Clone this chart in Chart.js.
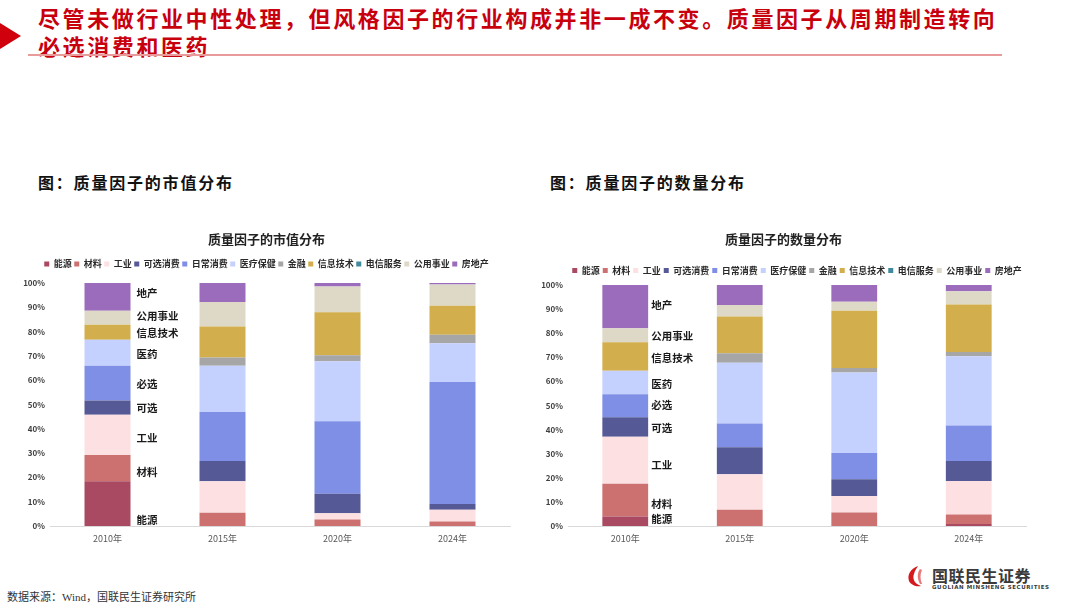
<!DOCTYPE html>
<html>
<head>
<meta charset="utf-8">
<script src="https://cdn.jsdelivr.net/npm/chart.js@4.4.1/dist/chart.umd.min.js"></script>
<style>
body{margin:0;width:1080px;height:607px;background:#fff;position:relative;overflow:hidden;font-family:"Noto Sans CJK SC",sans-serif;}
#tri{position:absolute;left:0;top:23px;width:0;height:0;border-top:13px solid transparent;border-bottom:13px solid transparent;border-left:21px solid #d0000c;}
#head{position:absolute;left:38px;top:3px;color:#c8000e;font-size:22px;font-weight:bold;line-height:28px;letter-spacing:2.6px;white-space:nowrap;}
#rule{position:absolute;left:28px;top:54px;width:974px;height:2px;background:#e99a9a;}
.sub{position:absolute;top:170px;font-size:16px;font-weight:bold;color:#111;letter-spacing:1.8px;}
.box{position:absolute;top:220px;height:330px;}
#src{position:absolute;left:7px;top:588px;font-size:11px;color:#333;font-family:"Liberation Serif","Noto Sans CJK SC",serif;}
#logo{position:absolute;left:906px;top:565px;}
#logo .cn{position:absolute;left:26px;top:-2px;font-size:16px;font-weight:bold;color:#3a3a3a;white-space:nowrap;letter-spacing:0.5px;}
#logo .en{position:absolute;left:26px;top:19px;font-size:5.5px;color:#3a3a3a;white-space:nowrap;letter-spacing:0.6px;font-weight:bold;font-family:"DejaVu Sans",sans-serif;}
</style>
</head>
<body>
<div id="tri"></div>
<div id="head">尽管未做行业中性处理，但风格因子的行业构成并非一成不变。质量因子从周期制造转向<br>必选消费和医药</div>
<div id="rule"></div>
<div class="sub" style="left:38px">图：质量因子的市值分布</div>
<div class="sub" style="left:550px">图：质量因子的数量分布</div>
<div class="box" style="left:0px;width:520px"><canvas id="mv"></canvas></div>
<div class="box" style="left:518px;width:518px"><canvas id="cnt"></canvas></div>
<div id="src">数据来源：Wind，国联民生证券研究所</div>
<div id="logo">
<svg width="22" height="22" viewBox="0 0 22 22" style="position:absolute;left:0;top:0">
<path d="M12 1 C4 4 1 10 3 16 C5 20 10 22 15 21 C9 19 6 14 8 9 C9 5 11 3 12 1 Z" fill="#d41a1f"/>
<path d="M14 4 C11 8 11 14 14 19 L16 19 C14 14 14 9 16 5 Z" fill="#e7797b"/>
</svg>
<div class="cn">国联民生证券</div>
<div class="en">GUOLIAN MINSHENG SECURITIES</div>
</div>
<script>
const years = ['2010年', '2015年', '2020年', '2024年'];
const sectors = ['能源', '材料', '工业', '可选消费', '日常消费', '医疗保健', '金融', '信息技术', '电信服务', '公用事业', '房地产'];
const sectorColors = ['#a94a62', '#cc716f', '#fde0e2', '#555a97', '#7f8fe6', '#c4d1ff', '#a6a6a6', '#d2ae4c', '#3f8a9c', '#ded9c7', '#9b6cbb'];

// 市值分布 (%), one array per sector, by year
const mvEnergy = [18.4, 0, 0, 0];
const mvMaterials = [10.8, 5.5, 2.7, 1.9];
const mvIndustrials = [16.6, 12.9, 2.5, 4.8];
const mvDiscretionary = [5.8, 8.4, 8.1, 2.4];
const mvStaples = [14.3, 20.1, 29.8, 50.2];
const mvHealth = [10.7, 19.0, 24.7, 15.9];
const mvFinance = [0, 3.4, 2.5, 3.5];
const mvTech = [6.2, 12.8, 17.7, 11.9];
const mvTelecom = [0, 0, 0, 0];
const mvUtilities = [5.8, 10.1, 10.6, 8.8];
const mvRealEstate = [11.4, 7.8, 1.4, 0.6];

// 数量分布 (%)
const cntEnergy = [3.9, 0, 0, 0.8];
const cntMaterials = [13.6, 6.7, 5.6, 4.0];
const cntIndustrials = [19.5, 14.8, 6.9, 13.9];
const cntDiscretionary = [8.1, 11.2, 6.9, 8.3];
const cntStaples = [9.6, 9.8, 10.9, 14.7];
const cntHealth = [9.7, 25.2, 33.4, 28.7];
const cntFinance = [0, 4.0, 1.9, 1.8];
const cntTech = [11.8, 15.2, 23.7, 19.7];
const cntTelecom = [0, 0, 0, 0];
const cntUtilities = [5.9, 4.8, 3.7, 5.5];
const cntRealEstate = [17.9, 8.3, 7.0, 2.6];

// side notes next to the 2010 bar: text and the value they sit at
const noteText = ['地产', '公用事业', '信息技术', '医药', '必选', '可选', '工业', '材料', '能源'];
const mvNoteAt = [96.0, 86.3, 79.3, 70.8, 58.4, 48.5, 36.4, 22.1, 2.6];
const cntNoteAt = [91.5, 79.0, 69.7, 59.0, 50.1, 40.8, 25.3, 9.1, 2.8];

const yTicks = [0, 10, 20, 30, 40, 50, 60, 70, 80, 90, 100];

const FONT = '"Noto Sans CJK SC", sans-serif';

const notesPlugin = {
	id: 'notes',
	afterDatasetsDraw(chart, args, opts){
		let ctx = chart.ctx;
		let bar = chart.getDatasetMeta(0).data[0];
		let x = bar.x + bar.width / 2 + opts.gap;
		ctx.save();
		ctx.font = 'bold 10.5px ' + FONT;
		ctx.fillStyle = '#1a1a1a';
		ctx.textBaseline = 'middle';
		for(let i = 0; i < opts.text.length; i++){
			ctx.fillText(opts.text[i], x, chart.scales.y.getPixelForValue(opts.at[i]));
		}
		ctx.restore();
	}
};

function makeChart(id, title, series, noteAt, gap, cfg){
	let datasets = [];
	for(let i = 0; i < sectors.length; i++){
		datasets.push({
			label: sectors[i],
			data: series[i],
			backgroundColor: sectorColors[i],
			borderWidth: 0,
			barPercentage: 0.4,
			categoryPercentage: 1
		});
	}
	return new Chart(document.getElementById(id), {
		type: 'bar',
		data: {labels: years, datasets: datasets},
		plugins: [notesPlugin],
		options: {
			responsive: true,
			maintainAspectRatio: false,
			animation: false,
			layout: {padding: {left: cfg.padLeft, right: 10, top: 0, bottom: 0}},
			plugins: {
				title: {
					display: true, text: title, color: '#222',
					font: {family: FONT, size: 13, weight: 'bold', lineHeight: 1},
					padding: {top: 12.5, bottom: cfg.titleBottom}
				},
				legend: {
					display: true, position: 'top', fullSize: cfg.legendFull,
					labels: {boxWidth: 5, boxHeight: 5, padding: cfg.legendPad, color: '#2a2a2a',
						font: {family: FONT, size: 9, weight: 'bold'}}
				},
				subtitle: {
					display: cfg.spacer > 0, text: ' ', weight: 500,
					font: {size: 1, lineHeight: 1}, padding: {top: Math.max(cfg.spacer - 1, 0), bottom: 0}
				},
				tooltip: {enabled: false},
				notes: {text: noteText, at: noteAt, gap: gap}
			},
			scales: {
				x: {
					stacked: true,
					grid: {display: false, drawTicks: false},
					border: {display: true, color: '#d9d9d9', width: 1},
					ticks: {color: '#595959', padding: 7, font: {family: FONT, size: 9}},
					afterFit: function(scale){ scale.height = 24; }
				},
				y: {
					stacked: true, min: 0, max: 100,
					grid: {display: false, drawTicks: false},
					border: {display: false},
					afterBuildTicks: function(scale){ scale.ticks = yTicks.map(v => ({value: v})); },
					ticks: {color: '#404040', padding: 5, font: {family: FONT, size: 8, weight: 'bold'},
						callback: v => v + '%'},
					afterFit: function(scale){ scale.width = 27; }
				}
			}
		}
	});
}

makeChart('mv', '质量因子的市值分布',
	[mvEnergy, mvMaterials, mvIndustrials, mvDiscretionary, mvStaples, mvHealth, mvFinance, mvTech, mvTelecom, mvUtilities, mvRealEstate],
	mvNoteAt, 6, {padLeft: 23, titleBottom: 11.5, legendPad: 2.5, legendFull: true, spacer: 4.5});

makeChart('cnt', '质量因子的数量分布',
	[cntEnergy, cntMaterials, cntIndustrials, cntDiscretionary, cntStaples, cntHealth, cntFinance, cntTech, cntTelecom, cntUtilities, cntRealEstate],
	cntNoteAt, 3, {padLeft: 23, titleBottom: 17.5, legendPad: 3, legendFull: false, spacer: 0});
</script>
</body>
</html>
